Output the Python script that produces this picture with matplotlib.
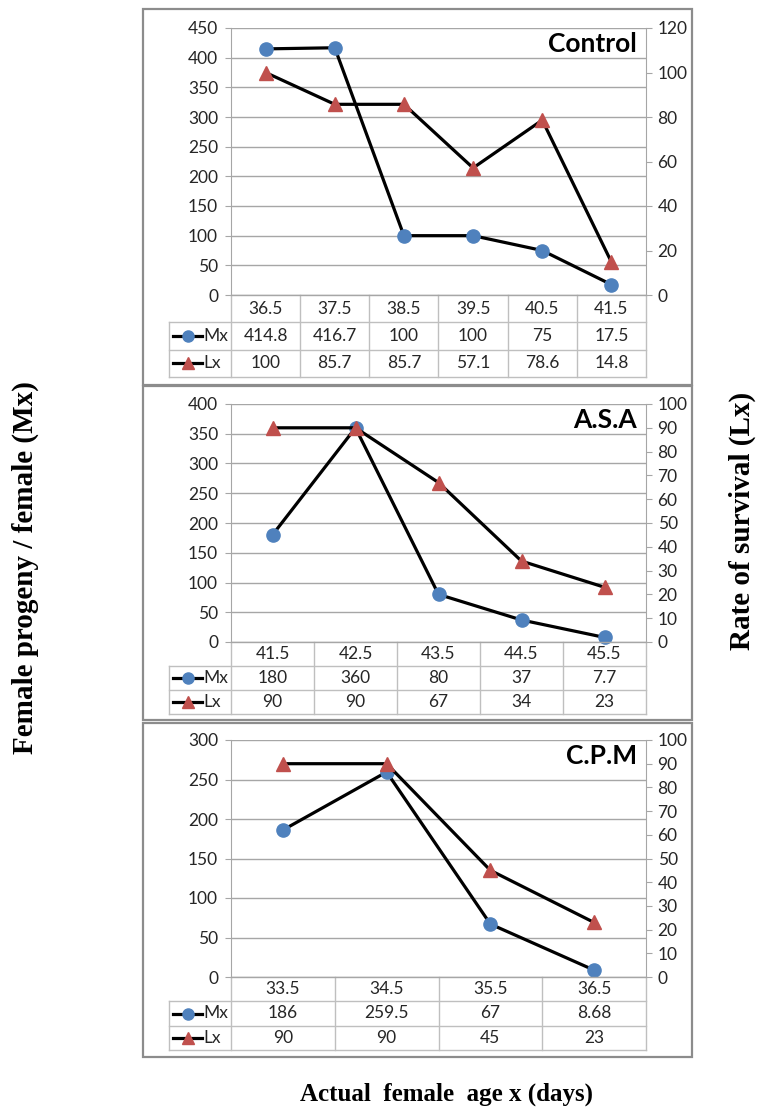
#!/usr/bin/env python3
"""Life-table panels (Mx and Lx) for Control, A.S.A and C.P.M with Excel-style data tables."""

import matplotlib

matplotlib.use("Agg")
import matplotlib.pyplot as plt  # noqa: E402
from matplotlib.patches import Rectangle  # noqa: E402


# data
control_age = [36.5, 37.5, 38.5, 39.5, 40.5, 41.5]
control_mx = [414.8, 416.7, 100, 100, 75, 17.5]
control_lx = [100, 85.7, 85.7, 57.1, 78.6, 14.8]

asa_age = [41.5, 42.5, 43.5, 44.5, 45.5]
asa_mx = [180, 360, 80, 37, 7.7]
asa_lx = [90, 90, 67, 34, 23]

cpm_age = [33.5, 34.5, 35.5, 36.5]
cpm_mx = [186, 259.5, 67, 8.68]
cpm_lx = [90, 90, 45, 23]

panel_names = ["Control", "A.S.A", "C.P.M"]

W, H = 758, 1110
BLUE = "#4F81BD"
RED = "#C0504D"
GRID = "#a6a6a6"
TABLE = "#bfbfbf"
FRAME = "#8c8c8c"
TEXT = "#262626"
FONT = "Lato"
SERIF = "Liberation Serif"
FS = 12.5


def fig_rect(x0, y0, x1, y1):
    # pixel box (top-left origin) -> figure fraction
    return [x0 / W, 1 - y1 / H, (x1 - x0) / W, (y1 - y0) / H]


def fmt(v):
    return f"{v:g}"


def draw_panel(fig, box, table_bottom, frame, ages, mx, lx, name, left_lim, right_lim):
    x0, y0, x1, y1 = box
    fx0, fy0, fx1, fy1 = frame
    fig.patches.append(
        Rectangle((fx0 / W, 1 - fy1 / H), (fx1 - fx0) / W, (fy1 - fy0) / H,
                  transform=fig.transFigure, fill=False, edgecolor=FRAME, linewidth=1.6)
    )

    n = len(ages)
    xs = list(range(n))
    ax = fig.add_axes(fig_rect(x0, y0, x1, y1))
    ax.set_xlim(-0.5, n - 0.5)
    ax.set_ylim(0, left_lim[0])
    ax.set_yticks(range(0, left_lim[0] + 1, left_lim[1]))
    ax.set_xticks([])
    ax.grid(axis="y", color=GRID, linewidth=1.0)
    ax.set_axisbelow(True)
    for side in ["top", "right", "bottom"]:
        ax.spines[side].set_visible(False)
    ax.spines["left"].set_color(GRID)
    ax.tick_params(axis="y", direction="out", length=4.3, color=GRID, labelsize=FS,
                   labelcolor=TEXT, pad=5)
    for lab in ax.get_yticklabels():
        lab.set_family(FONT)
    ax.plot(xs, mx, color="black", linewidth=2.3, marker="o", markersize=9.5,
            markerfacecolor=BLUE, markeredgecolor=BLUE, clip_on=False, zorder=3)

    ax2 = ax.twinx()
    ax2.set_ylim(0, right_lim[0])
    ax2.set_yticks(range(0, right_lim[0] + 1, right_lim[1]))
    for side in ["top", "left", "bottom"]:
        ax2.spines[side].set_visible(False)
    ax2.spines["right"].set_color(GRID)
    ax2.tick_params(axis="y", direction="out", length=4.3, color=GRID, labelsize=FS,
                    labelcolor=TEXT, pad=4)
    for lab in ax2.get_yticklabels():
        lab.set_family(FONT)
    ax2.plot(xs, lx, color="black", linewidth=2.3, marker="^", markersize=10,
             markerfacecolor=RED, markeredgecolor=RED, clip_on=False, zorder=3)

    ax2.text(1 - 9 / (x1 - x0), 1 - 16 / (y1 - y0), name, transform=ax2.transAxes,
             ha="right", va="center", fontsize=19, fontweight="bold", family=FONT,
             color="black")

    # data table under the plot
    colw = (x1 - x0) / n
    left_units = 62 / colw
    xl = -0.5 - left_units
    tax = fig.add_axes(fig_rect(169, y1, x1, table_bottom))
    tax.set_xlim(xl, n - 0.5)
    tax.set_ylim(0, 3)
    tax.axis("off")
    for k in range(n + 1):
        tax.plot([k - 0.5, k - 0.5], [0, 3], color=TABLE, linewidth=1.0, clip_on=False)
    for yy in [0, 1, 2]:
        tax.plot([xl, n - 0.5], [yy, yy], color=TABLE, linewidth=1.0, clip_on=False)
    tax.plot([xl, xl], [0, 2], color=TABLE, linewidth=1.0, clip_on=False)
    tax.plot([-0.5, n - 0.5], [3, 3], color=GRID, linewidth=1.0, clip_on=False)

    rows = [(2.5, ages), (1.5, mx), (0.5, lx)]
    for yy, vals in rows:
        for i, v in enumerate(vals):
            tax.text(i, yy, fmt(v), ha="center", va="center", fontsize=FS,
                     family=FONT, color=TEXT)

    px = 1 / colw
    keys = [(1.5, "o", BLUE, 8, "Mx"), (0.5, "^", RED, 9, "Lx")]
    for yy, mk, col, ms, label in keys:
        tax.plot([xl + 4 * px, xl + 33 * px], [yy, yy], color="black", linewidth=2.3,
                 clip_on=False)
        tax.plot([xl + 19 * px], [yy], marker=mk, markersize=ms, color=col,
                 linestyle="none", clip_on=False)
        tax.text(xl + 34 * px, yy, label, ha="left", va="center", fontsize=FS,
                 family=FONT, color=TEXT)


def main():
    fig = plt.figure(figsize=(W / 100, H / 100), dpi=100)

    draw_panel(fig, (231, 28, 646, 295), 377, (143, 9, 692, 385),
               control_age, control_mx, control_lx, panel_names[0], (450, 50), (120, 20))
    draw_panel(fig, (231, 404, 646, 642), 714, (143, 386, 692, 720),
               asa_age, asa_mx, asa_lx, panel_names[1], (400, 50), (100, 10))
    draw_panel(fig, (231, 740, 646, 977), 1050, (143, 723, 692, 1057),
               cpm_age, cpm_mx, cpm_lx, panel_names[2], (300, 50), (100, 10))

    fig.text(25 / W, 1 - 568 / H, "Female progeny / female (Mx)", rotation=90,
             ha="center", va="center", fontsize=21, fontweight="bold", family=SERIF)
    fig.text(742 / W, 1 - 521 / H, "Rate of survival (Lx)", rotation=90,
             ha="center", va="center", fontsize=21, fontweight="bold", family=SERIF)
    fig.text(446 / W, 1 - 1094 / H, "Actual  female  age x (days)",
             ha="center", va="center", fontsize=18, fontweight="bold", family=SERIF)

    fig.savefig("out.png", dpi=100)
    plt.close(fig)


if __name__ == "__main__":
    main()
